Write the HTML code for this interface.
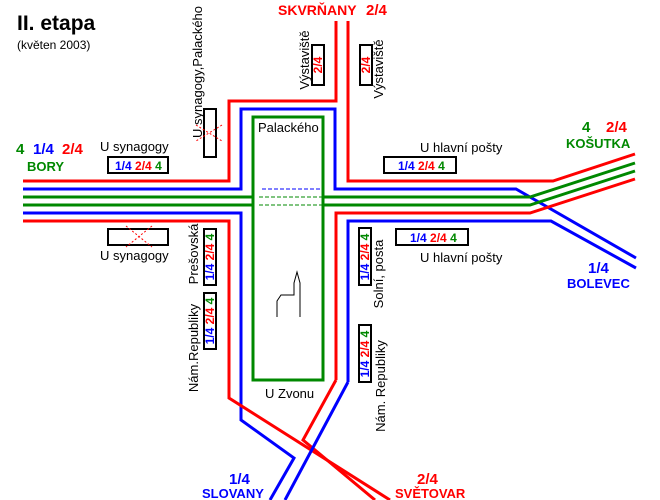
<!DOCTYPE html>
<html><head><meta charset="utf-8"><style>
html,body{margin:0;padding:0;background:#fff;}
svg{display:block;}
text{font-family:"Liberation Sans",sans-serif;}
.b{font-weight:bold;}
</style></head><body>
<svg width="660" height="500" viewBox="0 0 660 500" xmlns="http://www.w3.org/2000/svg">
<g fill="none" stroke-width="3" stroke-linejoin="miter">
<polyline stroke="#f00" points="23,181 229,181 229,101 336,101 336,21"/>
<polyline stroke="#00f" points="23,189 241,189 241,109 335,109 335,189 516,189 636,258"/>
<polyline stroke="#080" points="23,197 253,197"/>
<polyline stroke="#080" points="23,205 253,205"/>
<polyline stroke="#f00" points="348,21 348,181 553,181 635,154"/>
<polyline stroke="#080" points="323,197 530,197 635,163"/>
<polyline stroke="#080" points="323,205 530,205 635,171"/>
<polyline stroke="#f00" points="336,380 336,213 530,213 635,179"/>
<polyline stroke="#00f" points="348,382 348,221 551,221 636,268"/>
<polyline stroke="#00f" points="23,213 241,213 241,420 294,458 270,500"/>
<polyline stroke="#f00" points="23,221 229,221 229,398 390,500"/>
<polyline stroke="#f00" points="336,380 303,440 375,500"/>
<polyline stroke="#00f" points="348,382 285,500"/>
<rect stroke="#080" x="253" y="117" width="70" height="263"/>
</g>
<g stroke-width="1" fill="none" stroke-dasharray="4,2">
<line x1="262" y1="189" x2="322" y2="189" stroke="#00f"/>
<line x1="259" y1="197" x2="322" y2="197" stroke="#080"/>
<line x1="259" y1="205" x2="322" y2="205" stroke="#080"/>
</g>
<polyline fill="none" stroke="#000" stroke-width="1" points="277,317 277,301 281,295 294,295 294,283 297,272 300,283 300,317"/>
<g fill="#fff" stroke="#000" stroke-width="2">
<rect x="108" y="157" width="60" height="16"/>
<rect x="108" y="229" width="60" height="16"/>
<rect x="204" y="109" width="12" height="48"/>
<rect x="312" y="45" width="12" height="40"/>
<rect x="360" y="45" width="12" height="40"/>
<rect x="384" y="157" width="72" height="16"/>
<rect x="396" y="229" width="72" height="16"/>
<rect x="204" y="229" width="12" height="56"/>
<rect x="204" y="293" width="12" height="56"/>
<rect x="359" y="228" width="12" height="57"/>
<rect x="359" y="325" width="12" height="57"/>
</g>
<g stroke="#f00" stroke-width="1" stroke-dasharray="2,2">
<line x1="126" y1="226" x2="152" y2="247"/><line x1="152" y1="226" x2="126" y2="247"/>
<line x1="196" y1="125" x2="222" y2="141"/><line x1="222" y1="125" x2="196" y2="141"/>
</g>
<text x="17" y="30" class="b" font-size="21">II. etapa</text>
<text x="17" y="49" font-size="12">(květen 2003)</text>
<text x="16" y="154" class="b" font-size="15" fill="#080">4</text>
<text x="33" y="154" class="b" font-size="15" fill="#00f">1/4</text>
<text x="62" y="154" class="b" font-size="15" fill="#f00">2/4</text>
<text x="27" y="171" class="b" font-size="13" fill="#080">BORY</text>
<text x="100" y="151" font-size="13">U synagogy</text>
<text x="115" y="170" class="b" font-size="12"><tspan fill="#00f">1/4</tspan> <tspan fill="#f00">2/4</tspan> <tspan fill="#080">4</tspan></text>
<text x="100" y="260" font-size="13">U synagogy</text>
<text x="278" y="15" class="b" font-size="14" fill="#f00">SKVRŇANY</text>
<text x="366" y="15" class="b" font-size="15" fill="#f00">2/4</text>
<text x="258" y="132" font-size="13">Palackého</text>
<text x="265" y="398" font-size="13">U Zvonu</text>
<text x="420" y="152" font-size="13">U hlavní pošty</text>
<text x="398" y="170" class="b" font-size="12"><tspan fill="#00f">1/4</tspan> <tspan fill="#f00">2/4</tspan> <tspan fill="#080">4</tspan></text>
<text x="410" y="242" class="b" font-size="12"><tspan fill="#00f">1/4</tspan> <tspan fill="#f00">2/4</tspan> <tspan fill="#080">4</tspan></text>
<text x="420" y="262" font-size="13">U hlavní pošty</text>
<text x="582" y="132" class="b" font-size="15" fill="#080">4</text>
<text x="606" y="132" class="b" font-size="15" fill="#f00">2/4</text>
<text x="566" y="148" class="b" font-size="13" fill="#080">KOŠUTKA</text>
<text x="588" y="273" class="b" font-size="15" fill="#00f">1/4</text>
<text x="567" y="288" class="b" font-size="13" fill="#00f">BOLEVEC</text>
<text x="229" y="484" class="b" font-size="15" fill="#00f">1/4</text>
<text x="202" y="498" class="b" font-size="13" fill="#00f">SLOVANY</text>
<text x="417" y="484" class="b" font-size="15" fill="#f00">2/4</text>
<text x="395" y="498" class="b" font-size="13" fill="#f00">SVĚTOVAR</text>
<g font-size="13">
<text transform="translate(202,72) rotate(-90)" text-anchor="middle">U synagogy,Palackého</text>
<text transform="translate(309,60) rotate(-90)" text-anchor="middle">Výstaviště</text>
<text transform="translate(383,69) rotate(-90)" text-anchor="middle">Výstaviště</text>
<text transform="translate(198,254) rotate(-90)" text-anchor="middle">Prešovská</text>
<text transform="translate(198,348) rotate(-90)" text-anchor="middle">Nám.Republiky</text>
<text transform="translate(383,274) rotate(-90)" text-anchor="middle">Solní, posta</text>
<text transform="translate(385,386) rotate(-90)" text-anchor="middle">Nám. Republiky</text>
</g>
<g class="b" font-size="12">
<text transform="translate(322,65) rotate(-90)" text-anchor="middle" fill="#f00">2/4</text>
<text transform="translate(370,65) rotate(-90)" text-anchor="middle" fill="#f00">2/4</text>
<text transform="translate(214,257) rotate(-90)" text-anchor="middle"><tspan fill="#00f">1/4</tspan> <tspan fill="#f00">2/4</tspan> <tspan fill="#080">4</tspan></text>
<text transform="translate(214,321) rotate(-90)" text-anchor="middle"><tspan fill="#00f">1/4</tspan> <tspan fill="#f00">2/4</tspan> <tspan fill="#080">4</tspan></text>
<text transform="translate(369,257) rotate(-90)" text-anchor="middle"><tspan fill="#00f">1/4</tspan> <tspan fill="#f00">2/4</tspan> <tspan fill="#080">4</tspan></text>
<text transform="translate(369,354) rotate(-90)" text-anchor="middle"><tspan fill="#00f">1/4</tspan> <tspan fill="#f00">2/4</tspan> <tspan fill="#080">4</tspan></text>
</g>
</svg>
</body></html>
